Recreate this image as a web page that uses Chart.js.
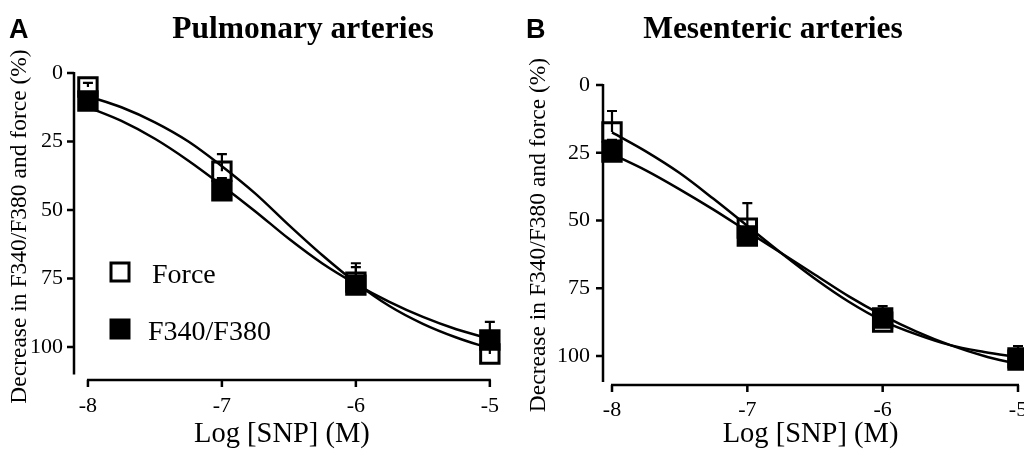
<!DOCTYPE html>
<html><head><meta charset="utf-8">
<script src="https://cdn.jsdelivr.net/npm/chart.js@4.4.1/dist/chart.umd.min.js"></script>
<style>
html,body{margin:0;padding:0;background:#fff;overflow:hidden;width:1024px;height:450px;}
#wrapA{position:absolute;left:0;top:0;width:512px;height:450px;}
#wrapB{position:absolute;left:512px;top:0;width:530px;height:450px;}
canvas{display:block;}
</style></head><body>
<div id="wrapA"><canvas id="cA" width="512" height="450"></canvas></div>
<div id="wrapB"><canvas id="cB" width="530" height="450"></canvas></div>
<script>
// ---- data ----
const X_TICKS = [-8, -7, -6, -5];
const Y_TICKS = [0, 25, 50, 75, 100];
const DOSES = [-8, -7, -6, -5];
const SERIES_NAMES = ['Force', 'F340/F380'];
const PANEL_LETTERS = ['A', 'B'];
const PANEL_TITLES = ['Pulmonary arteries', 'Mesenteric arteries'];
const X_TITLE = 'Log [SNP] (M)';
const Y_TITLE = 'Decrease in F340/F380 and force (%)';

const A_FORCE = [5.1, 35.8, 76.3, 102.5];
const A_FORCE_ERR = [1.5, 6.2, 6.9, 2];
const A_RATIO = [10.2, 43, 77.4, 97.4];
const A_RATIO_ERR = [1.5, 4.7, 6.6, 6.6];

const B_FORCE = [17.3, 52.8, 87.5, 101.5];
const B_FORCE_ERR = [7.7, 9.2, 5.9, 2];
const B_RATIO = [24.7, 55.7, 86, 100.7];
const B_RATIO_ERR = [4.5, 3.3, 3, 4.4];

// fitted curves
const CURVE_X = [-8, -7.75, -7.5, -7.25, -7, -6.75, -6.5, -6.25, -6, -5.75, -5.5, -5.25, -5];
const A_FORCE_FIT = [8.5, 12.5, 18, 25, 34, 44, 55.5, 66.5, 76.5, 85, 91.5, 96.5, 100.5];
const A_RATIO_FIT = [12.5, 17.5, 24, 32, 41, 50.5, 60.5, 69.5, 77, 83.5, 89, 93.5, 97];
const B_FORCE_FIT = [17.5, 24.5, 32.5, 42, 52, 62, 71.5, 80, 87, 92, 96, 98.5, 100.5];
const B_RATIO_FIT = [25.5, 31.5, 38.5, 46, 54, 62, 70, 78, 85, 91, 96, 100, 103];

// ---- helpers ----
const SERIF = "'Liberation Serif', 'Times New Roman', serif";
const SANS = "'Liberation Sans', Arial, sans-serif";
const pts = (xs, ys) => xs.map((x, i) => ({x: x, y: ys[i]}));

const decor = {
  id: 'decor',
  beforeDatasetsDraw(chart, args, o) {
    const ctx = chart.ctx, xs = chart.scales.x, ys = chart.scales.y, ca = chart.chartArea;
    ctx.save();
    ctx.strokeStyle = '#000'; ctx.lineWidth = 2.5;
    const ax = ca.left;
    ctx.beginPath();
    ctx.moveTo(ax, ys.getPixelForValue(0) - 1);
    ctx.lineTo(ax, ys.getPixelForValue(o.yEnd));
    Y_TICKS.forEach(v => { const p = ys.getPixelForValue(v); ctx.moveTo(ax - 7, p); ctx.lineTo(ax, p); });
    ctx.stroke();
    const by = ca.bottom;
    ctx.beginPath();
    ctx.moveTo(xs.getPixelForValue(X_TICKS[0]) - 1, by);
    ctx.lineTo(xs.getPixelForValue(X_TICKS[X_TICKS.length - 1]) + 1, by);
    X_TICKS.forEach(v => { const p = xs.getPixelForValue(v); ctx.moveTo(p, by); ctx.lineTo(p, by + 7); });
    ctx.stroke();
    ctx.restore();
  },
  afterDatasetsDraw(chart, args, o) {
    const ctx = chart.ctx, xs = chart.scales.x, ys = chart.scales.y;
    ctx.save();
    ctx.strokeStyle = '#000'; ctx.lineWidth = 2.2;
    o.errors.forEach(s => {
      s.vals.forEach((v, i) => {
        const px = xs.getPixelForValue(DOSES[i]);
        const p0 = ys.getPixelForValue(v), p1 = ys.getPixelForValue(v - s.errs[i]);
        ctx.beginPath();
        ctx.moveTo(px, p0); ctx.lineTo(px, p1);
        ctx.moveTo(px - 5, p1); ctx.lineTo(px + 5, p1);
        ctx.stroke();
      });
    });
    ctx.restore();
  },
  afterDraw(chart, args, o) {
    const ctx = chart.ctx;
    ctx.save();
    ctx.fillStyle = '#000';
    ctx.textBaseline = 'alphabetic';
    ctx.textAlign = 'left';
    ctx.font = "bold 27px " + SANS;
    ctx.fillText(o.letter, o.letterX, 38);
    ctx.textAlign = 'center';
    ctx.font = "bold 31.5px " + SERIF;
    ctx.fillText(o.title, o.titleX, 38);
    if (o.legend) {
      ctx.textAlign = 'left';
      ctx.font = "28px " + SERIF;
      o.legend.forEach(item => {
        const s = 18;
        ctx.lineWidth = 3; ctx.strokeStyle = '#000';
        ctx.fillStyle = item.fill;
        ctx.fillRect(item.x - s / 2, item.y - s / 2, s, s);
        ctx.strokeRect(item.x - s / 2, item.y - s / 2, s, s);
        ctx.fillStyle = '#000';
        ctx.fillText(item.text, item.tx, item.ty);
      });
    }
    ctx.restore();
  }
};

function makeChart(id, cfg) {
  const markerDs = (label, data, fill) => ({
    type: 'scatter', label: label, data: pts(DOSES, data), showLine: false,
    pointStyle: 'rect', pointRadius: 13, pointHoverRadius: 13, borderWidth: 3,
    borderColor: '#000', backgroundColor: fill, pointBackgroundColor: fill, clip: false
  });
  const curveDs = (label, data) => ({
    type: 'line', label: label, data: pts(CURVE_X, data), borderColor: '#000', borderWidth: 2.5,
    pointRadius: 0, fill: false, cubicInterpolationMode: 'monotone', clip: false
  });
  return new Chart(document.getElementById(id), {
    type: 'scatter',
    data: {
      datasets: [
        curveDs('Force fit', cfg.forceFit),
        curveDs('F340/F380 fit', cfg.ratioFit),
        markerDs(SERIES_NAMES[1], cfg.ratio, '#000'),
        markerDs(SERIES_NAMES[0], cfg.force, '#fff')
      ]
    },
    plugins: [decor],
    options: {
      responsive: false, animation: false, devicePixelRatio: 1,
      layout: { padding: cfg.padding },
      plugins: {
        legend: { display: false }, tooltip: { enabled: false },
        decor: {
          yEnd: cfg.yEnd, letter: cfg.letter, letterX: cfg.letterX, title: cfg.title, titleX: cfg.titleX,
          legend: cfg.legend,
          errors: [{vals: cfg.force, errs: cfg.forceErr}, {vals: cfg.ratio, errs: cfg.ratioErr}]
        }
      },
      scales: {
        x: {
          type: 'linear', min: cfg.xMin, max: -5,
          afterBuildTicks: s => { s.ticks = X_TICKS.map(v => ({value: v})); },
          afterFit: s => { s.height = cfg.xHeight; },
          grid: { display: false, drawTicks: false }, border: { display: false },
          ticks: { padding: cfg.xPad, color: '#000', maxRotation: 0, autoSkip: false,
                   font: { family: SERIF, size: 22 }, callback: v => String(v) },
          title: { display: true, text: X_TITLE, color: '#000',
                   font: { family: SERIF, size: 28.5, lineHeight: 1 }, padding: { top: 0, bottom: 1 } }
        },
        y: {
          type: 'linear', reverse: true, min: 0, max: cfg.yMax,
          afterBuildTicks: s => { s.ticks = Y_TICKS.map(v => ({value: v})); },
          afterFit: s => { s.width = cfg.yWidth; },
          grid: { display: false, drawTicks: false }, border: { display: false },
          ticks: { padding: cfg.yPad, color: '#000', autoSkip: false,
                   font: { family: SERIF, size: 22 }, callback: v => String(v) },
          title: { display: true, text: Y_TITLE, color: '#000',
                   font: { family: SERIF, size: 23.5, lineHeight: 1 }, padding: { top: cfg.yTitlePad, bottom: 0 } }
        }
      }
    }
  });
}

makeChart('cA', {
  force: A_FORCE, forceErr: A_FORCE_ERR, ratio: A_RATIO, ratioErr: A_RATIO_ERR,
  forceFit: A_FORCE_FIT, ratioFit: A_RATIO_FIT,
  padding: { top: 73, right: 19, bottom: 0, left: 0 },
  xMin: -8.104, yMax: 112, yEnd: 110, xHeight: 70, yWidth: 74, xPad: 13, yPad: 11, yTitlePad: 8.5,
  letter: PANEL_LETTERS[0], letterX: 9, title: PANEL_TITLES[0], titleX: 303,
  legend: [
    { x: 120, y: 272, fill: '#fff', text: SERIES_NAMES[0], tx: 152, ty: 283 },
    { x: 120, y: 329, fill: '#000', text: SERIES_NAMES[1], tx: 148, ty: 340 }
  ]
});
makeChart('cB', {
  force: B_FORCE, forceErr: B_FORCE_ERR, ratio: B_RATIO, ratioErr: B_RATIO_ERR,
  forceFit: B_FORCE_FIT, ratioFit: B_RATIO_FIT,
  padding: { top: 85, right: 24, bottom: 0, left: 0 },
  xMin: -8.0665, yMax: 110.7, yEnd: 109.6, xHeight: 65, yWidth: 91, xPad: 12, yPad: 13, yTitlePad: 15.5,
  letter: PANEL_LETTERS[1], letterX: 14, title: PANEL_TITLES[1], titleX: 261,
  legend: null
});
</script>
</body></html>
